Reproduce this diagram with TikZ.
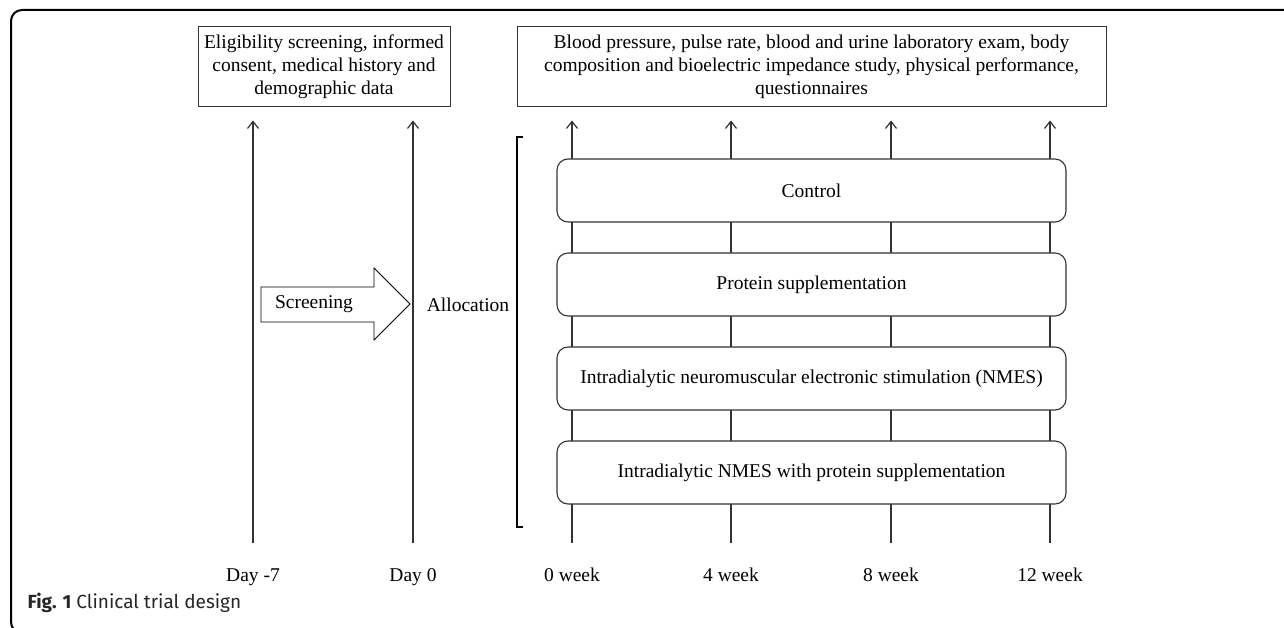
\documentclass[tikz,border=0pt]{standalone}
\usepackage{fontspec}
\setmainfont{Liberation Serif}
\newfontfamily\capfont{Fira Sans}
\usetikzlibrary{arrows.meta}

\begin{document}
\begin{tikzpicture}[x=1pt, y=-1pt,
    font=\fontsize{19.5}{23}\selectfont,
    infobox/.style={draw=black!80, line width=1pt, align=center, inner sep=0pt},
    armbox/.style={draw=black!80, fill=white, rounded corners=11pt, line width=1.1pt,
        minimum width=509pt, minimum height=63pt},
    timeline/.style={draw=black!80, line width=1.2pt, -{Straight Barb[length=7pt,width=11pt]},
        shorten >=13pt}]
	\useasboundingbox (0,0) rectangle (1284,628);
	\draw[line width=2pt, rounded corners=11pt] (1300,10) -- (11,10) -- (11,633) -- (40,633); % frame

	% top boxes
	\node[infobox, minimum width=252pt, minimum height=80pt] (elig) at (324,67)
		{Eligibility screening, informed\\consent, medical history and\\demographic data};
	\node[infobox, minimum width=589pt, minimum height=80pt] (meas) at (811.5,67)
		{Blood pressure, pulse rate, blood and urine laboratory exam, body\\
		 composition and bioelectric impedance study, physical performance,\\
		 questionnaires};

	% days
	\coordinate (em7) at (253,543);
	\coordinate (e0) at (413,543);
	\node (lm7) at (253,577) {Day -7};
	\node (l0) at (413,577) {Day 0};
	\draw[timeline] (em7) -- (em7 |- elig.south);
	\draw[timeline] (e0) -- (e0 |- elig.south);

	% weeks
	\foreach \w/\x in {0/572, 4/731, 8/891, 12/1050} {
		\coordinate (w\w) at (\x,543);
		\node (lw\w) at (\x,575) {\w\ week};
		\draw[timeline] (w\w) -- (w\w |- meas.south);
	}

	% arms
	\node[armbox] (ctrl) at (811.5,190.5) {Control};
	\node[armbox] (prot) at (811.5,284.5) {Protein supplementation};
	\node[armbox] (nmes) at (811.5,378.5) {Intradialytic neuromuscular electronic stimulation (NMES)};
	\node[armbox] (both) at (811.5,472.5) {Intradialytic NMES with protein supplementation};

	% screening arrow
	\draw[line width=0.8pt] (261,287) -- (374,287) -- (374,268) -- (410,304)
		-- (374,340) -- (374,322) -- (261,322) -- cycle;
	\node (scr) at (314,304) {Screening};
	\node (alloc) at (468,305) {Allocation};
	\draw[line width=1.8pt] (523,137) -| (517,527) -- (523,527); % bracket

	\node[anchor=west, text=black!85, font=\capfont\fontsize{19}{22}\selectfont] (cap) at (24,603)
		{\textbf{Fig. 1} Clinical trial design};
\end{tikzpicture}
\end{document}
